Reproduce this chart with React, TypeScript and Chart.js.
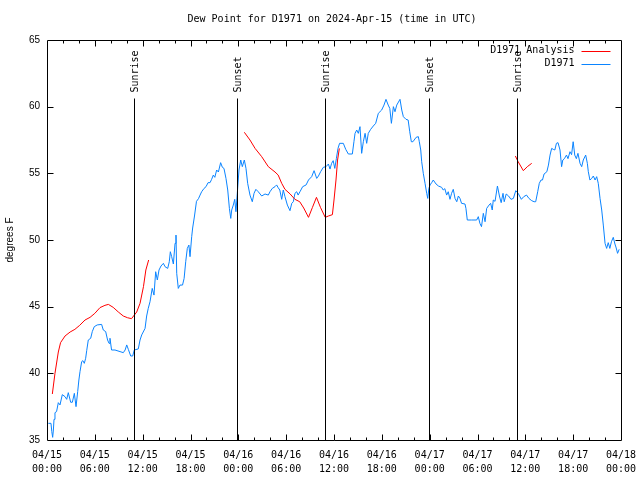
import React, { useEffect, useRef } from "react";
import { Chart, registerables } from "chart.js";

Chart.register(...registerables);

const TITLE = "Dew Point for D1971 on 2024-Apr-15 (time in UTC)";
const Y_TITLE = "degrees F";
const SERIES_OBS = "D1971";
const SERIES_ANALYSIS = "D1971 Analysis";

// x tick labels (every 6 hours from 04/15 00:00 UTC)
const xTickDates = ["04/15", "04/15", "04/15", "04/15", "04/16", "04/16", "04/16", "04/16", "04/17", "04/17", "04/17", "04/17", "04/18"];
const xTickTimes = ["00:00", "06:00", "12:00", "18:00", "00:00", "06:00", "12:00", "18:00", "00:00", "06:00", "12:00", "18:00", "00:00"];

// sunrise / sunset (hours since 04/15 00:00 UTC)
const sunHours = [10.95, 23.85, 34.9, 47.95, 58.98];
const sunLabels = ["Sunrise", "Sunset", "Sunrise", "Sunset", "Sunrise"];

// observed dew point (hours since start, degrees F)
const obsHours = [
  0.17, 0.5, 0.6, 0.71, 0.8, 0.88, 1.0, 1.2, 1.42, 1.63, 1.92, 2.26, 2.47, 2.67, 2.97, 3.18, 3.43, 3.64, 3.85, 4.0,
  4.14, 4.35, 4.5, 4.68, 4.85, 4.98, 5.18, 5.48, 5.68, 5.93, 6.3, 6.85, 7.06, 7.36, 7.6, 7.78, 7.9, 8.1, 8.53, 9.16,
  9.57, 9.8, 10.0, 10.2, 10.5, 10.75, 10.95, 11.45, 11.67, 11.88, 12.3, 12.5, 12.7, 12.92, 13.2, 13.42, 13.63, 13.84, 14.05, 14.3,
  14.6, 14.8, 15.14, 15.34, 15.47, 15.64, 15.85, 16.06, 16.18, 16.27, 16.47, 16.68, 17.0, 17.2, 17.4, 17.6, 17.8, 17.94, 18.15, 18.27,
  18.5, 18.75, 19.0, 19.2, 19.4, 19.7, 19.95, 20.2, 20.45, 20.65, 20.86, 21.05, 21.28, 21.5, 21.78, 22.0, 22.2, 22.45, 22.67, 22.88,
  23.05, 23.17, 23.37, 23.55, 23.7, 23.87, 24.08, 24.3, 24.5, 24.75, 24.96, 25.17, 25.46, 25.75, 25.97, 26.2, 26.5, 26.93, 27.35, 27.76,
  27.97, 28.26, 28.6, 28.8, 29.0, 29.2, 29.44, 29.64, 29.85, 30.15, 30.48, 30.7, 30.9, 31.1, 31.32, 31.5, 31.73, 32.07, 32.5, 32.8,
  33.2, 33.5, 33.83, 34.05, 34.33, 34.66, 35.0, 35.3, 35.5, 35.7, 35.9, 36.1, 36.3, 36.5, 36.7, 37.17, 37.47, 37.8, 38.3, 38.5,
  38.64, 38.85, 39.05, 39.26, 39.47, 39.68, 39.9, 40.1, 40.3, 40.6, 40.93, 41.23, 41.56, 41.98, 42.27, 42.52, 42.8, 43.0, 43.2, 43.45,
  43.65, 43.87, 44.28, 44.5, 44.7, 45.03, 45.3, 45.5, 45.7, 45.9, 46.3, 46.58, 46.7, 46.88, 47.0, 47.2, 47.42, 47.63, 47.76, 47.9,
  48.05, 48.25, 48.45, 48.8, 49.1, 49.5, 49.7, 49.9, 50.13, 50.33, 50.55, 50.75, 50.96, 51.18, 51.4, 51.6, 51.8, 52.0, 52.43, 52.55,
  52.72, 53.27, 53.9, 54.1, 54.3, 54.5, 54.73, 54.95, 55.15, 55.45, 55.65, 55.85, 55.98, 56.2, 56.5, 56.75, 56.97, 57.2, 57.35, 57.6,
  57.9, 58.2, 58.5, 58.8, 59.1, 59.5, 59.8, 60.15, 60.45, 60.8, 61.1, 61.3, 61.55, 61.75, 61.97, 62.15, 62.35, 62.7, 62.9, 63.1,
  63.3, 63.5, 63.7, 63.9, 64.1, 64.35, 64.55, 64.7, 64.9, 65.16, 65.35, 65.6, 65.8, 66.0, 66.2, 66.4, 66.6, 66.86, 67.07, 67.27,
  67.57, 67.78, 67.9, 68.1, 68.3, 68.53, 68.75, 68.95, 69.15, 69.37, 69.58, 69.78, 70.0, 70.2, 70.4, 70.6, 70.8, 71.03, 71.24, 71.4,
  71.57, 71.77,
];
const obsValues = [
  36.25, 36.25, 35.63, 35.2, 35.75, 36.55, 37.05, 37.13, 37.8, 37.63, 38.4, 38.25, 38.05, 38.55, 37.83, 37.83, 38.5, 37.5, 38.63, 39.5,
  40.13, 40.88, 40.95, 40.75, 41.13, 41.7, 42.5, 42.63, 43.13, 43.5, 43.63, 43.67, 43.25, 43.13, 42.5, 42.25, 42.63, 41.75, 41.75, 41.63,
  41.55, 41.75, 42.13, 41.8, 41.3, 41.3, 41.75, 41.83, 42.5, 42.88, 43.37, 44.3, 44.87, 45.37, 46.37, 45.87, 47.62, 47.0, 47.75, 48.05,
  48.25, 48.0, 47.87, 48.37, 49.12, 48.75, 48.2, 49.75, 50.37, 47.5, 46.37, 46.62, 46.62, 47.12, 48.37, 49.37, 49.62, 48.75, 50.25, 50.9,
  51.8, 52.9, 53.1, 53.37, 53.62, 53.87, 54.0, 54.3, 54.3, 54.55, 54.87, 54.7, 55.25, 55.1, 55.8, 55.45, 55.37, 54.62, 53.75, 52.37,
  51.62, 52.25, 52.62, 53.05, 52.12, 53.5, 55.25, 56.0, 55.5, 56.0, 55.37, 54.25, 53.37, 52.87, 53.5, 53.8, 53.62, 53.3, 53.45, 53.37,
  53.62, 53.87, 54.0, 54.13, 53.92, 53.75, 53.05, 53.75, 53.25, 52.62, 52.2, 52.75, 52.87, 53.5, 53.62, 53.37, 53.62, 54.0, 54.13, 54.5,
  54.75, 55.2, 54.62, 54.8, 55.13, 55.45, 55.5, 55.7, 55.32, 55.75, 55.95, 55.37, 56.12, 56.87, 57.25, 57.25, 56.8, 56.45, 56.45, 57.37,
  58.0, 58.25, 58.0, 58.5, 56.5, 57.37, 58.0, 57.25, 58.0, 58.3, 58.55, 58.75, 59.5, 59.75, 60.12, 60.55, 60.12, 59.87, 58.75, 60.0,
  59.62, 60.12, 60.55, 59.75, 59.25, 59.05, 59.0, 58.12, 57.37, 57.37, 57.7, 57.75, 57.37, 56.75, 55.87, 55.0, 54.25, 53.5, 53.12, 53.87,
  54.13, 54.3, 54.5, 54.2, 54.05, 53.95, 53.75, 53.85, 53.37, 53.62, 53.05, 53.5, 53.8, 53.12, 52.87, 53.3, 53.12, 52.75, 52.7, 52.37,
  51.5, 51.5, 51.5, 51.75, 51.25, 51.0, 52.0, 51.37, 52.37, 52.62, 52.75, 52.25, 53.0, 52.9, 54.05, 53.3, 52.8, 53.5, 52.87, 53.45,
  53.3, 53.05, 53.12, 53.7, 53.5, 53.05, 53.25, 53.37, 53.12, 52.95, 52.87, 52.87, 53.62, 54.25, 54.5, 54.5, 54.95, 55.12, 55.62, 56.37,
  56.87, 56.8, 56.75, 57.25, 57.3, 56.75, 55.5, 56.0, 56.1, 56.37, 56.1, 56.62, 56.4, 57.37, 56.37, 56.1, 56.5, 55.75, 55.5, 56.0,
  56.37, 55.75, 55.12, 54.5, 54.6, 54.8, 54.5, 54.75, 54.25, 53.12, 52.25, 51.12, 49.75, 49.37, 49.8, 49.37, 49.87, 50.2, 49.7, 49.4,
  49.0, 49.3,
];

// analysis dew point (null = gap between segments)
const analysisHours = [
  0.67, 1.0, 1.42, 1.7, 2.26, 2.9, 3.5, 4.1, 4.77, 5.4, 6.0, 6.65, 7.27, 7.7, 8.3, 8.95, 9.57, 10.1, 10.6, 11.25,
  11.67, 12.1, 12.4, 12.75, 18.0,
  24.75, 25.46, 26.1, 26.93, 27.76, 28.6, 29.0, 29.44, 29.85, 30.5, 31.1, 31.7, 32.2, 32.8, 33.3, 33.8, 34.3, 34.9, 35.3, 35.8,
  36.0, 36.25, 36.45, 36.67, 48.0,
  58.75, 59.1, 59.75, 60.25, 60.8,
];
const analysisValues = [
  38.45, 40.0, 41.6, 42.3, 42.8, 43.1, 43.3, 43.6, 44.0, 44.2, 44.5, 44.93, 45.1, 45.17, 44.95, 44.6, 44.3, 44.17, 44.1, 44.6,
  45.25, 46.5, 47.75, 48.5, null,
  58.08, 57.5, 56.87, 56.25, 55.5, 55.1, 54.87, 54.25, 53.8, 53.45, 53.05, 52.87, 52.4, 51.7, 52.45, 53.2, 52.45, 51.7, 51.8, 51.9,
  53.0, 54.5, 56.0, 56.87, null,
  56.3, 55.87, 55.2, 55.5, 55.75,
];

const OBS_COLOR = "#0a84ff";
const ANALYSIS_COLOR = "#ff0000";
const MONO = "'DejaVu Sans Mono', monospace";
const SANS = "'Liberation Sans', Arial, sans-serif";

const overlayPlugin = {
  id: "overlay",
  beforeDraw(chart: any) {
    const ctx = chart.ctx;
    ctx.save();
    ctx.fillStyle = "#ffffff";
    ctx.fillRect(0, 0, chart.width, chart.height);
    ctx.restore();
  },
  afterDraw(chart: any) {
    const { ctx, chartArea: a, scales } = chart;
    const xs = scales.x;
    const ys = scales.y;
    const L = Math.round(a.left) + 0.5;
    const R = Math.round(a.right) + 0.5;
    const T = Math.round(a.top) + 0.5;
    const B = Math.round(a.bottom) + 0.5;
    ctx.save();
    ctx.strokeStyle = "#000";
    ctx.fillStyle = "#000";
    ctx.lineWidth = 1;

    // sunrise / sunset lines
    ctx.font = `10px ${MONO}`;
    sunHours.forEach((h, i) => {
      const px = Math.round(xs.getPixelForValue(h)) + 0.5;
      ctx.beginPath();
      ctx.moveTo(px, T + 58);
      ctx.lineTo(px, B);
      ctx.stroke();
      ctx.save();
      ctx.translate(px + 1, T + 52);
      ctx.rotate(-Math.PI / 2);
      ctx.textAlign = "left";
      ctx.textBaseline = "middle";
      ctx.fillText(sunLabels[i], 0, 0);
      ctx.restore();
    });

    // frame
    ctx.beginPath();
    ctx.rect(L, T, R - L, B - T);
    ctx.stroke();

    // y ticks (inward, both sides)
    for (let v = 40; v < 65; v += 5) {
      const py = Math.round(ys.getPixelForValue(v)) + 0.5;
      ctx.beginPath();
      ctx.moveTo(L, py);
      ctx.lineTo(L + 6, py);
      ctx.moveTo(R, py);
      ctx.lineTo(R - 6, py);
      ctx.stroke();
    }
    // x ticks (inward, top and bottom)
    for (let h = 2; h < 72; h += 2) {
      const px = Math.round(xs.getPixelForValue(h)) + 0.5;
      const len = h % 6 === 0 ? 6 : 3;
      ctx.beginPath();
      ctx.moveTo(px, B);
      ctx.lineTo(px, B - len);
      ctx.moveTo(px, T);
      ctx.lineTo(px, T + len);
      ctx.stroke();
    }

    // legend
    ctx.font = `10px ${MONO}`;
    ctx.textAlign = "right";
    ctx.textBaseline = "middle";
    const lx = R - 47;
    const items = [
      { label: SERIES_ANALYSIS, color: ANALYSIS_COLOR },
      { label: SERIES_OBS, color: OBS_COLOR },
    ];
    items.forEach((it, i) => {
      const y = T + 10 + i * 13;
      ctx.fillStyle = "#000";
      ctx.fillText(it.label, lx, y);
      ctx.strokeStyle = it.color;
      ctx.beginPath();
      ctx.moveTo(lx + 7, Math.round(y) + 0.5);
      ctx.lineTo(lx + 36, Math.round(y) + 0.5);
      ctx.stroke();
    });

    // title
    ctx.fillStyle = "#000";
    ctx.textAlign = "center";
    ctx.textBaseline = "middle";
    ctx.font = `10px ${MONO}`;
    ctx.fillText(TITLE, (a.left + a.right) / 2 - 2, 19);
    ctx.restore();
  },
};

export default function App() {
  const canvasRef = useRef<HTMLCanvasElement | null>(null);

  useEffect(() => {
    const canvas = canvasRef.current;
    if (!canvas) return;
    const chart = new Chart(canvas, {
      type: "line",
      data: {
        datasets: [
          {
            label: SERIES_ANALYSIS,
            data: analysisHours.map((h, i) => ({ x: h, y: analysisValues[i] })) as any,
            borderColor: ANALYSIS_COLOR,
            backgroundColor: ANALYSIS_COLOR,
            borderWidth: 1,
            pointRadius: 0,
            spanGaps: false,
            tension: 0,
          },
          {
            label: SERIES_OBS,
            data: obsHours.map((h, i) => ({ x: h, y: obsValues[i] })),
            borderColor: OBS_COLOR,
            backgroundColor: OBS_COLOR,
            borderWidth: 1,
            pointRadius: 0,
            tension: 0,
          },
        ],
      },
      options: {
        responsive: false,
        animation: false,
        devicePixelRatio: 1,
        layout: { padding: { top: 40, right: 19, left: 0, bottom: 0 } },
        plugins: {
          legend: { display: false },
          title: { display: false },
          tooltip: { enabled: false },
        },
        scales: {
          x: {
            type: "linear",
            min: 0,
            max: 72,
            grid: { display: false, drawTicks: false },
            border: { display: false },
            ticks: {
              stepSize: 6,
              autoSkip: false,
              maxRotation: 0,
              minRotation: 0,
              padding: 8,
              color: "#000",
              font: { family: MONO, size: 10, lineHeight: 1.4 },
              callback: (v: any) => {
                const i = Math.round(Number(v) / 6);
                return [xTickDates[i], xTickTimes[i]];
              },
            },
            afterFit: (s: any) => {
              s.height = 40;
              s.paddingLeft = 0;
              s.paddingRight = 0;
            },
          },
          y: {
            min: 35,
            max: 65,
            grid: { display: false, drawTicks: false },
            border: { display: false },
            ticks: {
              stepSize: 5,
              padding: 7,
              color: "#000",
              font: { family: SANS, size: 10 },
            },
            title: {
              display: true,
              text: Y_TITLE,
              color: "#000",
              font: { family: SANS, size: 10 },
              padding: { top: 4, bottom: 4 },
            },
            afterFit: (s: any) => {
              s.width = 47;
              s.paddingTop = 0;
              s.paddingBottom = 0;
            },
          },
        },
      },
      plugins: [overlayPlugin],
    });
    return () => chart.destroy();
  }, []);

  return (
    <div style={{ position: "fixed", left: 0, top: 0, width: 640, height: 480, background: "#fff" }}>
      <canvas ref={canvasRef} width={640} height={480} style={{ display: "block", width: 640, height: 480 }} />
    </div>
  );
}
